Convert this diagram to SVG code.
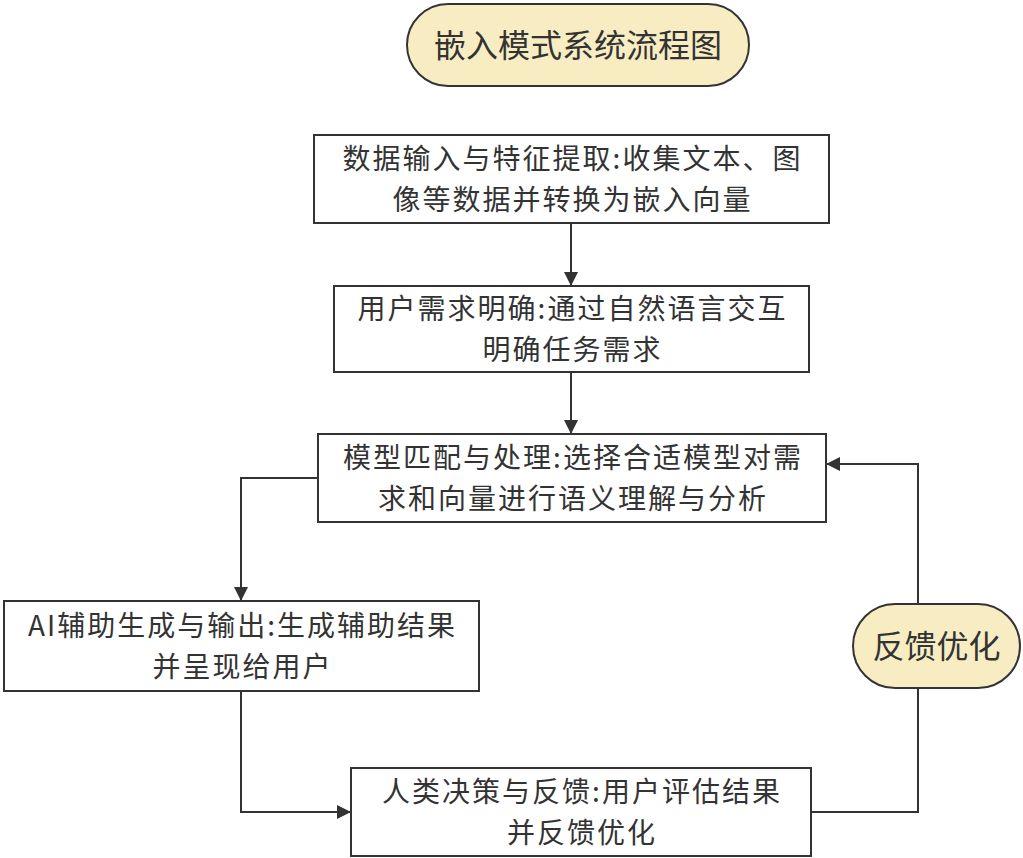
<svg xmlns="http://www.w3.org/2000/svg" width="1023" height="858" viewBox="0 0 1023 858">
<defs>
<style>
.box{fill:#ffffff;stroke:#333333;stroke-width:2}
.pill{fill:#f8edc2;stroke:#333333;stroke-width:2}
.t{font-family:"Noto Sans CJK SC","Noto Sans",sans-serif;font-size:28px;letter-spacing:2px;fill:#333333;text-anchor:middle}
.tt{font-family:"Noto Sans CJK SC","Noto Sans",sans-serif;font-size:32px;fill:#333333;text-anchor:middle}
.c{fill:none;stroke:#333333;stroke-width:2}
</style>
<marker id="arr" viewBox="0 0 10 10" refX="10" refY="5" markerWidth="16" markerHeight="14" markerUnits="userSpaceOnUse" orient="auto">
<path d="M0,0 L10,5 L0,10 z" fill="#333333"/>
</marker>
</defs>
<rect width="1023" height="858" fill="#ffffff"/>
<g id="title">
<rect class="pill" x="407" y="4" width="342" height="82" rx="41" ry="41"/>
<text class="tt" x="578" y="57">嵌入模式系统流程图</text>
</g>
<g id="connectors">
<path class="c" d="M571,223 L571,286" marker-end="url(#arr)"/>
<path class="c" d="M571,372 L571,434" marker-end="url(#arr)"/>
<path class="c" d="M318,478 L241,478 L241,601" marker-end="url(#arr)"/>
<path class="c" d="M241,691 L241,812 L351,812" marker-end="url(#arr)"/>
<path class="c" d="M811,812 L918,812 L918,688"/>
<path class="c" d="M918,604 L918,464 L826,464" marker-end="url(#arr)"/>
</g>
<g id="n1">
<rect class="box" x="314" y="135" width="515" height="88"/>
<text class="t" x="572.5" y="169">数据输入与特征提取:收集文本、图</text>
<text class="t" x="572.5" y="210">像等数据并转换为嵌入向量</text>
</g>
<g id="n2">
<rect class="box" x="334" y="286" width="475" height="86"/>
<text class="t" x="572.5" y="319">用户需求明确:通过自然语言交互</text>
<text class="t" x="572.5" y="360">明确任务需求</text>
</g>
<g id="n3">
<rect class="box" x="318" y="434" width="508" height="88"/>
<text class="t" x="573" y="468">模型匹配与处理:选择合适模型对需</text>
<text class="t" x="573" y="509">求和向量进行语义理解与分析</text>
</g>
<g id="n4">
<rect class="box" x="4" y="601" width="475" height="90"/>
<text class="t" x="242.5" y="636">AI辅助生成与输出:生成辅助结果</text>
<text class="t" x="242.5" y="677">并呈现给用户</text>
</g>
<g id="n5">
<rect class="box" x="351" y="768" width="460" height="88"/>
<text class="t" x="582" y="802">人类决策与反馈:用户评估结果</text>
<text class="t" x="582" y="843">并反馈优化</text>
</g>
<g id="feedback">
<rect class="pill" x="853" y="604" width="167" height="84" rx="42" ry="42"/>
<text class="tt" x="936.5" y="658">反馈优化</text>
</g>
</svg>
